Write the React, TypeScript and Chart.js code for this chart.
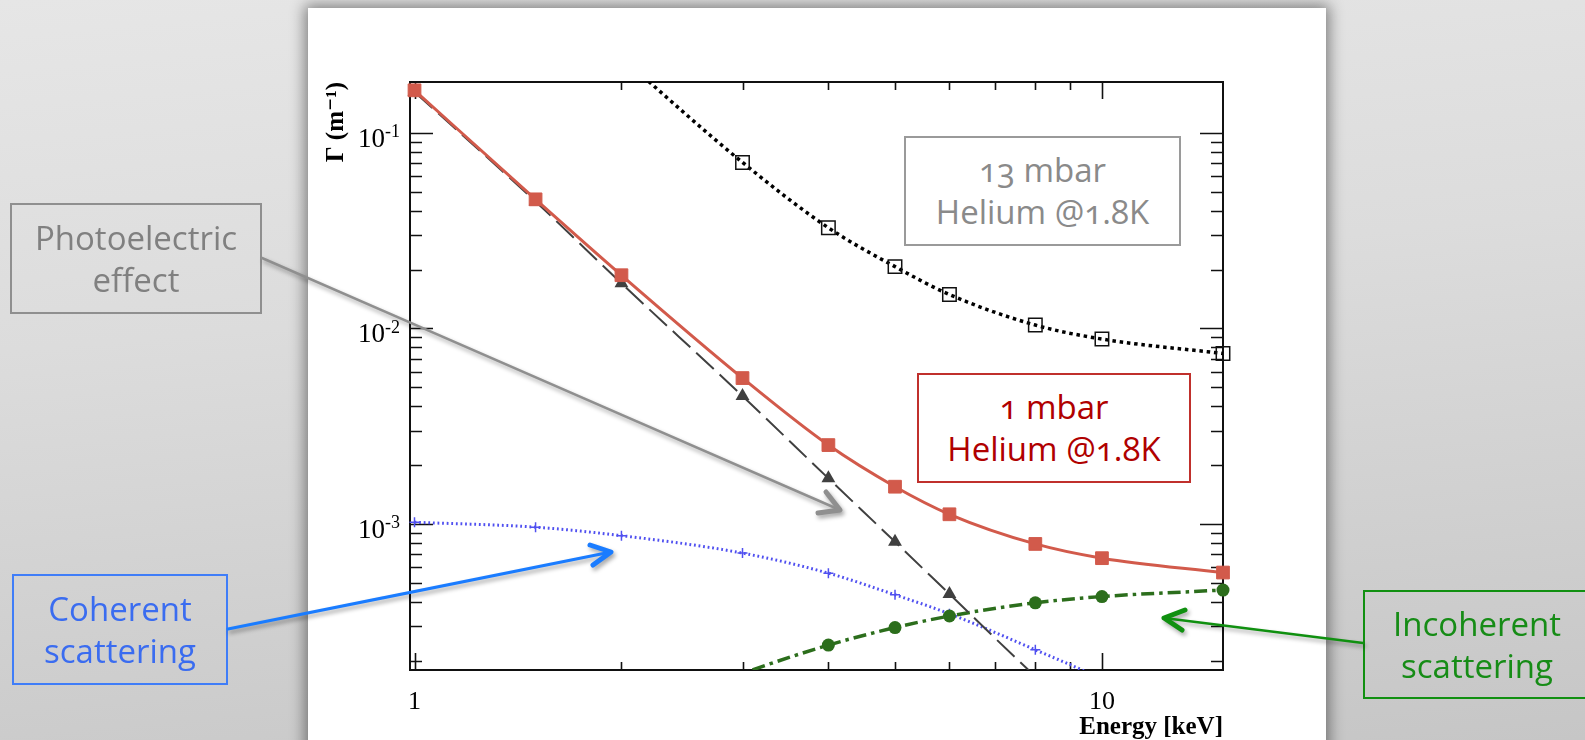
import React, { useEffect, useRef } from "react";
import { Chart, registerables } from "chart.js";

Chart.register(...registerables);

// ---------- data ----------
const energies = [1, 1.5, 2, 3, 4, 5, 6, 8, 10, 15];
const total1mbar = [0.165, 0.0457, 0.0187, 0.00557, 0.00253, 0.00155, 0.00112, 0.00079, 0.000668, 0.000564];
const total13mbar = [2.15, 0.594, 0.243, 0.0706, 0.0327, 0.0207, 0.0149, 0.0104, 0.00882, 0.00744];
const photoelectric = [0.162, 0.0445, 0.017, 0.00451, 0.00171, 0.00081, 0.000438, 0.000166, 0.0000822, 0.000022];
const coherent = [0.00102, 0.000962, 0.000871, 0.000709, 0.00056, 0.000434, 0.000347, 0.000227, 0.00016, 0.00007];
const incoherent = [0.00003, 0.00006, 0.0001, 0.000172, 0.00024, 0.000295, 0.000338, 0.000395, 0.000425, 0.000459];

const xTickValues = [1, 10];
const xTickLabels = ["1", "10"];
const yTickValues = [0.001, 0.01, 0.1];
const yTickBase = "10";
const yTickExponents = ["-3", "-2", "-1"];
const xMin = 0.985;
const xMax = 15;
const yMin = 1.79e-4;
const yMax = 0.182;

const xTitle = "Energy [keV]";
const yTitle = "\u0393 (m\u207B\u00B9)";

const annotations = [
  { lines: ["13 mbar", "Helium @1.8K"], left: 904, top: 136, w: 277, h: 110, border: "#9a9a9a", color: "#8a8a8a", bg: "#ffffff" },
  { lines: ["1 mbar", "Helium @1.8K"], left: 917, top: 373, w: 274, h: 110, border: "#c0302c", color: "#b00000", bg: "#ffffff" },
  { lines: ["Photoelectric", "effect"], left: 10, top: 203, w: 252, h: 111, border: "#8f8f8f", color: "#808080", bg: "transparent" },
  { lines: ["Coherent", "scattering"], left: 12, top: 574, w: 216, h: 111, border: "#3f7df8", color: "#3a6cf0", bg: "transparent" },
  { lines: ["Incoherent", "scattering"], left: 1363, top: 590, w: 228, h: 109, border: "#119011", color: "#168c16", bg: "transparent" },
];

const serif = '"Liberation Serif", "Times New Roman", "DejaVu Serif", serif';

const pts = (arr: number[]) => energies.map((e, i) => ({ x: e, y: arr[i] }));
const radiusIn = (r: number) => (c: any) => {
  const v = c.raw && c.raw.y;
  return v >= yMin && v <= yMax ? r : 0;
};

const frameTicksPlugin = {
  id: "frameTicks",
  beforeDatasetsDraw(chart: any) {
    const { ctx, chartArea: a, scales } = chart;
    const xs = scales.x;
    const ys = scales.y;
    ctx.save();
    ctx.strokeStyle = "#111";
    ctx.lineWidth = 2;
    ctx.strokeRect(a.left, a.top, a.right - a.left, a.bottom - a.top);
    ctx.lineWidth = 1.6;
    ctx.beginPath();
    for (let k = -5; k <= 1; k++) {
      for (let m = 1; m <= 9; m++) {
        const v = m * Math.pow(10, k);
        if (v >= yMin && v <= yMax) {
          const y = Math.round(ys.getPixelForValue(v)) + 0.5;
          const len = m === 1 ? 23 : 12;
          ctx.moveTo(a.left, y);
          ctx.lineTo(a.left + len, y);
          ctx.moveTo(a.right, y);
          ctx.lineTo(a.right - len, y);
        }
        if (v >= xMin && v <= xMax - 0.5) {
          const x = Math.round(xs.getPixelForValue(v)) + 0.5;
          const len = m === 1 ? 17 : 8;
          ctx.moveTo(x, a.bottom);
          ctx.lineTo(x, a.bottom - len);
          ctx.moveTo(x, a.top);
          ctx.lineTo(x, a.top + len);
        }
      }
    }
    ctx.stroke();

    // y tick labels with raised exponents, placed from the y scale
    ctx.fillStyle = "#000";
    ctx.textAlign = "right";
    ctx.textBaseline = "alphabetic";
    yTickValues.forEach((v, i) => {
      const y = ys.getPixelForValue(v);
      const xr = a.left - 10;
      ctx.font = `18px ${serif}`;
      const exp = yTickExponents[i];
      ctx.fillText(exp, xr, y + 4.5);
      const w = ctx.measureText(exp).width;
      ctx.font = `27px ${serif}`;
      ctx.fillText(yTickBase, xr - w, y + 14);
    });
    ctx.restore();
  },
};

const clip = { left: 14, right: 14, top: 0, bottom: 0 };

function ChartCanvas() {
  const ref = useRef<HTMLCanvasElement | null>(null);
  useEffect(() => {
    if (!ref.current) return;
    const chart = new Chart(ref.current, {
      type: "line",
      data: {
        datasets: [
          {
            label: "1 mbar total",
            data: pts(total1mbar),
            borderColor: "#d25a4b",
            backgroundColor: "#d25a4b",
            borderWidth: 3,
            pointStyle: "rect",
            pointRadius: radiusIn(9),
            pointBorderWidth: 1,
            cubicInterpolationMode: "monotone",
            clip,
          },
          {
            label: "Photoelectric",
            data: pts(photoelectric),
            borderColor: "#404040",
            backgroundColor: "#404040",
            borderWidth: 2,
            borderDash: [24, 8],
            pointStyle: "triangle",
            pointRadius: radiusIn(8),
            pointBorderWidth: 0,
            cubicInterpolationMode: "monotone",
            clip,
          },
          {
            label: "13 mbar total",
            data: pts(total13mbar),
            borderColor: "#000000",
            backgroundColor: "rgba(0,0,0,0)",
            borderWidth: 3.5,
            borderDash: [3.5, 3.8],
            pointStyle: "rect",
            pointRadius: radiusIn(9.5),
            pointBorderWidth: 1.5,
            pointBorderColor: "#111",
            cubicInterpolationMode: "monotone",
            clip,
          },
          {
            label: "Incoherent",
            data: pts(incoherent),
            borderColor: "#2c6e1c",
            backgroundColor: "#2c6e1c",
            borderWidth: 3.5,
            borderDash: [13, 5, 3.5, 5],
            pointStyle: "circle",
            pointRadius: radiusIn(6.5),
            pointBorderWidth: 0,
            cubicInterpolationMode: "monotone",
            clip,
          },
          {
            label: "Coherent",
            data: pts(coherent),
            borderColor: "#5050f0",
            backgroundColor: "#5050f0",
            borderWidth: 3,
            borderDash: [1.8, 2.8],
            pointStyle: "cross",
            pointRadius: radiusIn(5),
            pointBorderWidth: 1.5,
            cubicInterpolationMode: "monotone",
            clip,
          },
        ],
      },
      options: {
        responsive: false,
        animation: false,
        devicePixelRatio: 1,
        events: [],
        layout: { padding: { left: 318, top: 82, right: 362, bottom: 0 } },
        plugins: { legend: { display: false }, tooltip: { enabled: false }, title: { display: false } },
        scales: {
          x: {
            type: "logarithmic",
            position: "bottom",
            min: xMin,
            max: xMax,
            grid: { display: false, drawTicks: false },
            border: { display: false },
            afterBuildTicks: (s: any) => {
              s.ticks = xTickValues.map((v) => ({ value: v }));
            },
            afterFit: (s: any) => {
              s.height = 70;
            },
            ticks: {
              autoSkip: false,
              maxRotation: 0,
              padding: 17,
              color: "#000",
              font: { family: serif, size: 26 },
              callback: (v: any) => {
                const i = xTickValues.indexOf(Number(v));
                return i >= 0 ? xTickLabels[i] : "";
              },
            },
            title: {
              display: true,
              text: xTitle,
              align: "end",
              color: "#000",
              font: { family: serif, size: 25, weight: "bold" },
              padding: { top: 0, bottom: -3 },
            },
          },
          y: {
            type: "logarithmic",
            position: "left",
            min: yMin,
            max: yMax,
            grid: { display: false, drawTicks: false },
            border: { display: false },
            afterBuildTicks: (s: any) => {
              s.ticks = yTickValues.map((v) => ({ value: v }));
            },
            afterFit: (s: any) => {
              s.width = 92;
            },
            ticks: { display: false },
            title: {
              display: true,
              text: yTitle,
              align: "end",
              color: "#000",
              font: { family: serif, size: 25, weight: "bold" },
              padding: { top: 4, bottom: 0 },
            },
          },
        },
      },
      plugins: [frameTicksPlugin],
    } as any);
    return () => chart.destroy();
  }, []);
  return (
    <canvas
      ref={ref}
      width={1585}
      height={740}
      style={{ position: "absolute", left: 0, top: 0, width: 1585, height: 740 }}
    />
  );
}

function Arrow({ from, tip, armA, armB, color, width, headWidth }: any) {
  return (
    <g>
      <line x1={from[0]} y1={from[1]} x2={tip[0]} y2={tip[1]} stroke={color} strokeWidth={width} strokeLinecap="round" />
      <polyline
        points={`${armA[0]},${armA[1]} ${tip[0]},${tip[1]} ${armB[0]},${armB[1]}`}
        fill="none"
        stroke={color}
        strokeWidth={headWidth}
        strokeLinecap="round"
        strokeLinejoin="round"
      />
    </g>
  );
}

export default function App() {
  return (
    <div
      style={{
        position: "fixed",
        left: 0,
        top: 0,
        width: 1585,
        height: 740,
        overflow: "hidden",
        background: "linear-gradient(175deg, #e6e6e6 0%, #dcdcdc 40%, #c6c6c6 100%)",
      }}
    >
      <div
        style={{
          position: "absolute",
          left: 308,
          top: 8,
          width: 1018,
          height: 780,
          background: "#ffffff",
          boxShadow: "0 0 14px 3px rgba(0,0,0,0.45)",
        }}
      />
      <ChartCanvas />
      {annotations.map((a, i) => (
        <div
          key={i}
          style={{
            position: "absolute",
            left: a.left,
            top: a.top,
            width: a.w,
            height: a.h,
            boxSizing: "border-box",
            border: `2px solid ${a.border}`,
            background: a.bg,
            color: a.color,
            fontFamily: '"Open Sans", "Noto Sans", sans-serif',
            fontSize: 33,
            lineHeight: "42px",
            fontVariantNumeric: "oldstyle-nums",
            display: "flex",
            flexDirection: "column",
            alignItems: "center",
            justifyContent: "center",
            textAlign: "center",
            whiteSpace: "nowrap",
          }}
        >
          {a.lines.map((l, j) => (
            <div key={j}>{l}</div>
          ))}
        </div>
      ))}
      <svg
        width={1585}
        height={740}
        style={{ position: "absolute", left: 0, top: 0, pointerEvents: "none", filter: "drop-shadow(2px 3px 2px rgba(0,0,0,0.35))" }}
      >
        <Arrow from={[262, 258]} tip={[840, 510]} armA={[826, 492]} armB={[818, 513]} color="#8f8f8f" width={2.5} headWidth={5} />
        <Arrow from={[228, 629]} tip={[611, 552]} armA={[590, 545]} armB={[593, 565]} color="#1a7cff" width={3} headWidth={5} />
        <Arrow from={[1363, 643]} tip={[1164, 618]} armA={[1185, 610]} armB={[1182, 630]} color="#109010" width={2.5} headWidth={5} />
      </svg>
    </div>
  );
}
